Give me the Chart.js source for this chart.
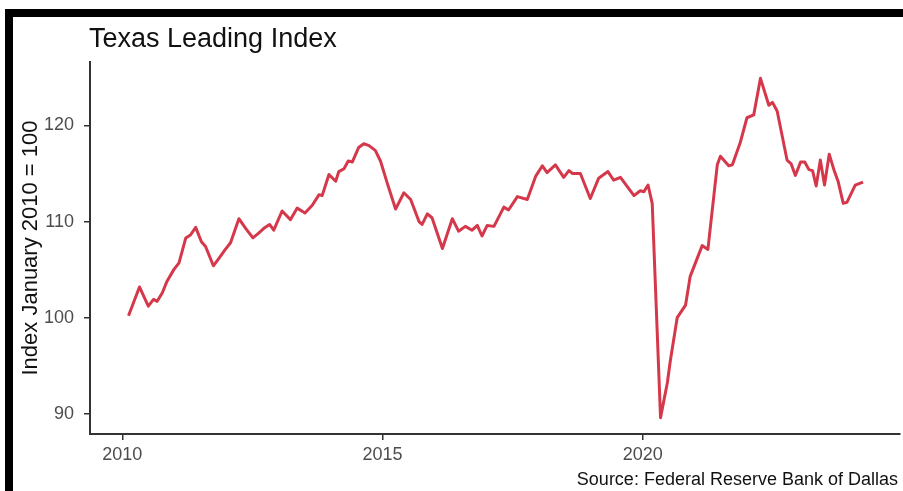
<!DOCTYPE html>
<html lang="en">
<head>
    <meta charset="UTF-8">
    <title>Texas Leading Index</title>
    <script src="https://cdn.jsdelivr.net/npm/chart.js"></script>
    <style>
        html, body { margin: 0; padding: 0; background: #fff; }
        canvas { display: block; }
    </style>
</head>
<body>
    <canvas id="tliChart" width="903" height="491"></canvas>
    <script>
        // Texas Leading Index (decimal year -> index level)
        const dates = [
            2010.12, 2010.33, 2010.50, 2010.60, 2010.67, 2010.77, 2010.86, 2010.99,
            2011.09, 2011.22, 2011.31, 2011.41, 2011.52, 2011.60, 2011.75, 2011.86, 2011.98,
            2012.08, 2012.24, 2012.37, 2012.51, 2012.62, 2012.72, 2012.83, 2012.91,
            2013.07, 2013.23, 2013.36, 2013.51, 2013.65, 2013.78, 2013.84, 2013.97,
            2014.10, 2014.16, 2014.26, 2014.34, 2014.42, 2014.54, 2014.64, 2014.74, 2014.86, 2014.96,
            2015.09, 2015.25, 2015.41, 2015.54, 2015.70, 2015.76, 2015.86, 2015.95,
            2016.15, 2016.34, 2016.46, 2016.59, 2016.72, 2016.82, 2016.91,
            2017.01, 2017.14, 2017.33, 2017.42, 2017.59, 2017.78, 2017.94,
            2018.07, 2018.16, 2018.32, 2018.48, 2018.58, 2018.65, 2018.80, 2018.99,
            2019.15, 2019.33, 2019.44, 2019.57, 2019.83, 2019.95,
            2020.02, 2020.10, 2020.18, 2020.34, 2020.47, 2020.53, 2020.66, 2020.82, 2020.91,
            2021.14, 2021.25, 2021.43, 2021.49, 2021.65, 2021.72, 2021.87,
            2022.00, 2022.13, 2022.26, 2022.42, 2022.49, 2022.58, 2022.77, 2022.85, 2022.93,
            2023.03, 2023.11, 2023.19, 2023.26, 2023.33, 2023.41, 2023.49, 2023.58, 2023.67, 2023.75, 2023.85, 2023.92,
            2024.08, 2024.23
        ];
        const values = [
            100.2, 103.2, 101.2, 101.9, 101.7, 102.6, 103.8, 105.0,
            105.7, 108.3, 108.6, 109.4, 107.9, 107.4, 105.4, 106.2, 107.1,
            107.8, 110.3, 109.3, 108.3, 108.8, 109.3, 109.7, 109.1,
            111.1, 110.2, 111.4, 110.9, 111.7, 112.8, 112.7, 114.9,
            114.2, 115.2, 115.5, 116.3, 116.2, 117.7, 118.1, 117.9, 117.4, 116.3,
            114.0, 111.3, 113.0, 112.3, 110.0, 109.7, 110.8, 110.4,
            107.2, 110.3, 109.0, 109.5, 109.1, 109.6, 108.5,
            109.6, 109.5, 111.5, 111.2, 112.6, 112.3, 114.7,
            115.8, 115.1, 115.9, 114.6, 115.3, 115.0, 115.0, 112.4,
            114.5, 115.2, 114.3, 114.6, 112.7, 113.2,
            113.1, 113.8, 111.9, 89.6, 93.2, 95.6, 100.0, 101.3, 104.3,
            107.5, 107.1, 115.9, 116.8, 115.8, 115.9, 118.2,
            120.8, 121.1, 124.9, 122.1, 122.4, 121.5, 116.4, 116.0, 114.8,
            116.2, 116.2, 115.4, 115.3, 113.7, 116.4, 113.8, 117.0, 115.4, 114.2, 111.9, 112.0,
            113.8, 114.1
        ];
        const xTicks = [2010, 2015, 2020];
        const yTicks = [90, 100, 110, 120];

        const chartTitle = 'Texas Leading Index';
        const yTitle = 'Index January 2010 = 100';
        const sourceNote = 'Source: Federal Reserve Bank of Dallas';

        // frame, title, axis title and source line
        const decorPlugin = {
            id: 'decorPlugin',
            beforeDraw: (chart) => {
                const ctx = chart.ctx;
                ctx.save();
                ctx.fillStyle = '#fff';
                ctx.fillRect(0, 0, chart.width, chart.height);
                ctx.fillStyle = '#000';
                ctx.fillRect(5, 9, chart.width - 5, 8);
                ctx.fillRect(5, 9, 8, chart.height - 9);
                ctx.restore();
            },
            afterDraw: (chart) => {
                const ctx = chart.ctx;
                const area = chart.chartArea;
                ctx.save();
                ctx.fillStyle = '#111';
                ctx.font = '27px "Liberation Sans", Arial, sans-serif';
                ctx.textAlign = 'left';
                ctx.textBaseline = 'alphabetic';
                ctx.fillText(chartTitle, area.left - 1, 47);

                ctx.font = '18px "Liberation Sans", Arial, sans-serif';
                ctx.textAlign = 'right';
                ctx.fillText(sourceNote, 898, 485);

                ctx.translate(37, (area.top + area.bottom) / 2);
                ctx.rotate(-Math.PI / 2);
                ctx.textAlign = 'center';
                ctx.font = '22px "Liberation Sans", Arial, sans-serif';
                ctx.fillText(yTitle, 0, 0);
                ctx.restore();
            }
        };

        const ctx = document.getElementById('tliChart').getContext('2d');
        new Chart(ctx, {
            type: 'line',
            data: {
                datasets: [{
                    label: chartTitle,
                    data: dates.map((d, i) => ({ x: d, y: values[i] })),
                    borderColor: '#d6384b',
                    borderWidth: 3,
                    borderJoinStyle: 'round',
                    pointRadius: 0,
                    tension: 0,
                    fill: false
                }]
            },
            options: {
                responsive: false,
                animation: false,
                devicePixelRatio: 1,
                layout: { padding: { left: 14, top: 62, right: 3, bottom: 0 } },
                plugins: {
                    legend: { display: false },
                    tooltip: { enabled: false }
                },
                scales: {
                    x: {
                        type: 'linear',
                        min: 2009.38,
                        max: 2024.94,
                        afterBuildTicks: (scale) => { scale.ticks = xTicks.map(v => ({ value: v })); },
                        afterFit: (scale) => { scale.height = 57; },
                        border: { display: true, color: '#333', width: 2 },
                        grid: { drawOnChartArea: false, drawTicks: true, tickLength: 6, color: '#333', lineWidth: 1.5 },
                        ticks: {
                            padding: 4,
                            maxRotation: 0,
                            color: '#4d4d4d',
                            font: { family: '"Liberation Sans", Arial, sans-serif', size: 18 },
                            callback: (v) => String(v)
                        }
                    },
                    y: {
                        min: 87.9,
                        max: 126.6,
                        afterBuildTicks: (scale) => { scale.ticks = yTicks.map(v => ({ value: v })); },
                        afterFit: (scale) => { scale.width = 76; },
                        border: { display: true, color: '#333', width: 2 },
                        grid: { drawOnChartArea: false, drawTicks: true, tickLength: 6, color: '#333', lineWidth: 1.5 },
                        ticks: {
                            padding: 10,
                            color: '#4d4d4d',
                            font: { family: '"Liberation Sans", Arial, sans-serif', size: 18 },
                            callback: (v) => String(v)
                        }
                    }
                }
            },
            plugins: [decorPlugin]
        });
    </script>
</body>
</html>
